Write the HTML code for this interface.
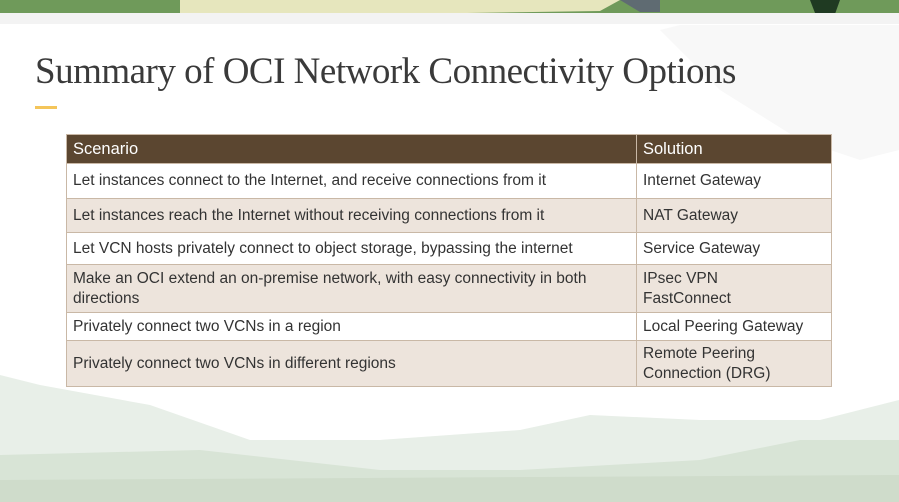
<!DOCTYPE html>
<html><head><meta charset="utf-8"><style>
body{margin:0;width:899px;height:502px;overflow:hidden;background:#fff;position:relative;font-family:"Liberation Sans",sans-serif}
.t{position:absolute;left:35px;top:50px;font-family:"Liberation Serif",serif;font-size:37px;color:#3a3a3a;letter-spacing:-0.5px}
.u{position:absolute;left:35px;top:106px;width:22px;height:3px;background:#f4c55a}
table{position:absolute;left:66px;top:134px;width:766px;border-collapse:collapse;font-size:15.5px;color:#333}
td{border:1px solid #c9b8a6;padding:0 6px;line-height:20px}
tr.h td{background:#5b4630;color:#fff;font-size:16.5px;height:28px}
tr.a td{background:#fff}
tr.b td{background:#ede4dc}
</style></head><body>
<svg width="899" height="502" style="position:absolute;left:0;top:0">
<rect x="0" y="0" width="899" height="14" fill="#6f9a5a"/>
<path d="M180 0 L180 13 L400 14 L600 11 L620 0Z" fill="#e6e6bd"/>
<path d="M620 0 L640 12 L660 12 L660 0Z" fill="#5f6b72"/>
<path d="M810 0 L815 13 L835 14 L840 0Z" fill="#1f3a22"/>
<rect x="0" y="13" width="899" height="11" fill="#f3f3f3"/>
<path d="M680 25 L899 25 L899 150 L860 160 L800 140 L720 90 L660 30Z" fill="#f8f8f8"/>
<path d="M0 375 L40 385 L150 405 L250 440 L380 440 L520 430 L590 415 L700 420 L820 420 L899 400 L899 502 L0 502Z" fill="#e8efe8"/>
<path d="M0 455 L200 450 L380 470 L520 470 L700 460 L800 440 L899 440 L899 502 L0 502Z" fill="#d8e4d6"/>
<path d="M0 480 L899 475 L899 502 L0 502Z" fill="#cfdccb"/>
</svg>
<div class="t">Summary of OCI Network Connectivity Options</div>
<div class="u"></div>
<table>
<tr class="h"><td style="width:557px">Scenario</td><td>Solution</td></tr>
<tr class="a"><td style="height:34px">Let instances connect to the Internet, and receive connections from it</td><td>Internet Gateway</td></tr>
<tr class="b"><td style="height:33px">Let instances reach the Internet without receiving connections from it</td><td>NAT Gateway</td></tr>
<tr class="a"><td style="height:31px">Let VCN hosts privately connect to object storage, bypassing the internet</td><td>Service Gateway</td></tr>
<tr class="b"><td style="height:47px">Make an OCI extend an on-premise network, with easy connectivity in both directions</td><td>IPsec VPN<br>FastConnect</td></tr>
<tr class="a"><td style="height:27px">Privately connect two VCNs in a region</td><td>Local Peering Gateway</td></tr>
<tr class="b"><td style="height:45px">Privately connect two VCNs in different regions</td><td>Remote Peering<br>Connection (DRG)</td></tr>
</table>
</body></html>
